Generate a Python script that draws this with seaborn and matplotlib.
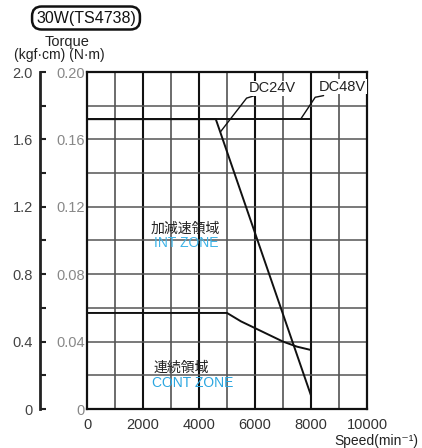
import seaborn as sns
import matplotlib.pyplot as plt
import pandas as pd

# curve data (speed min^-1, torque N·m)
speed_24_int = [0, 4600, 8000]
torque_24_int = [0.172, 0.172, 0.008]
speed_48_int = [0, 8000, 8000]
torque_48_int = [0.172, 0.172, 0.035]
speed_cont = [0, 5000, 5500, 6000, 6500, 7000, 7500, 8000]
torque_cont = [0.057, 0.057, 0.052, 0.048, 0.044, 0.040, 0.037, 0.035]

x_ticks = [0, 2000, 4000, 6000, 8000, 10000]
nm_ticks = [0, 0.04, 0.08, 0.12, 0.16, 0.20]
nm_labels = ["0", "0.04", "0.08", "0.12", "0.16", "0.20"]
kgf_ticks = [0, 0.4, 0.8, 1.2, 1.6, 2.0]
kgf_labels = ["0", "0.4", "0.8", "1.2", "1.6", "2.0"]

sns.set_style("white")
plt.rcParams["font.family"] = ["Liberation Sans", "Noto Sans CJK JP", "DejaVu Sans"]

fig = plt.figure(figsize=(4.22, 4.48), dpi=100)
ax = fig.add_axes([87 / 422, 39 / 448, 280 / 422, 337 / 448])

# grid: verticals every 1000 (heavier every 2000), horizontals every 0.02
for x in range(1000, 10000, 1000):
    major = x % 2000 == 0
    ax.axvline(x, color="#111111" if major else "#444444",
               lw=1.5 if major else 1.1, zorder=1)
for i in range(1, 10):
    ax.axhline(i * 0.02, color="#555555", lw=1.1, zorder=1)

curve_df = pd.concat([
    pd.DataFrame({"speed": speed_24_int, "torque": torque_24_int, "curve": "24int"}),
    pd.DataFrame({"speed": speed_48_int, "torque": torque_48_int, "curve": "48int"}),
    pd.DataFrame({"speed": speed_cont, "torque": torque_cont, "curve": "cont"}),
])
sns.lineplot(data=curve_df, x="speed", y="torque", units="curve", estimator=None,
             sort=False, color="#111111", lw=1.4, ax=ax, zorder=3)

ax.set_xlim(0, 10000)
ax.set_ylim(0, 0.20)
ax.set_xticks(x_ticks)
ax.set_xticklabels([str(v) for v in x_ticks], fontsize=10.5, color="#333333")
ax.set_yticks(nm_ticks)
ax.set_yticklabels(nm_labels, fontsize=10.5, color="#888888")
ax.tick_params(axis="x", length=0, pad=6.5)
ax.tick_params(axis="y", length=0, pad=1.5)
ax.set_xlabel("")
ax.set_ylabel("")
for side in ["top", "right", "bottom", "left"]:
    ax.spines[side].set_visible(True)
    ax.spines[side].set_color("#111111")
    ax.spines[side].set_linewidth(1.6)

# kgf·cm axis
ax2 = ax.twinx()
ax2.set_position(ax.get_position())
ax2.set_ylim(0, 2.0)
for side in ["top", "right", "bottom"]:
    ax2.spines[side].set_visible(False)
ax2.spines["left"].set_position(("axes", -47 / 280))
ax2.spines["left"].set_linewidth(2.0)
ax2.spines["left"].set_color("#222222")
ax2.yaxis.set_ticks_position("left")
ax2.set_yticks(kgf_ticks)
ax2.set_yticks([0.2, 0.6, 1.0, 1.4, 1.8], minor=True)
ax2.set_yticklabels(kgf_labels, fontsize=10.5, color="#444444")
ax2.tick_params(axis="y", which="both", direction="in", length=4.5, width=1.5,
                pad=5, color="#222222")

# voltage labels with leaders
white = dict(boxstyle="square,pad=0.05", fc="white", ec="none")
ax.plot([4767, 5700, 5990], [0.1645, 0.1845, 0.186], color="#111111", lw=1.0, zorder=4)
ax.text(5770, 0.1862, "DC24V", fontsize=10.5, ha="left", va="bottom", color="#222222",
        bbox=white, zorder=5)
ax.plot([7630, 8150, 8450], [0.172, 0.185, 0.186], color="#111111", lw=1.0, zorder=4)
ax.text(8280, 0.1872, "DC48V", fontsize=10.5, ha="left", va="bottom", color="#222222",
        bbox=white, zorder=5)

# zone labels
ax.text(3510, 0.107, "加減速領域", fontsize=10, ha="center", va="center", color="#222222")
ax.text(3550, 0.0985, "INT ZONE", fontsize=10, ha="center", va="center", color="#3fb4e8")
ax.text(3370, 0.0245, "連続領域", fontsize=10, ha="center", va="center", color="#222222")
ax.text(3760, 0.0155, "CONT ZONE", fontsize=10, ha="center", va="center", color="#2aa6e0")

# header texts
fig.text(86 / 422, 1 - 18 / 448, "30W(TS4738)", fontsize=11.5, ha="center", va="center",
         color="#111111",
         bbox=dict(boxstyle="round,pad=0.25,rounding_size=0.6", fc="white",
                   ec="#111111", lw=1.8))
fig.text(67 / 422, 1 - 42 / 448, "Torque", fontsize=10.5, ha="center", va="center",
         color="#222222")
fig.text(59 / 422, 1 - 55 / 448, "(kgf·cm) (N·m)", fontsize=10, ha="center", va="center",
         color="#222222")
fig.text(418 / 422, 1 - 441 / 448, "Speed(min⁻¹)", fontsize=10, ha="right", va="center",
         color="#222222")

plt.savefig("out.png", dpi=100)
